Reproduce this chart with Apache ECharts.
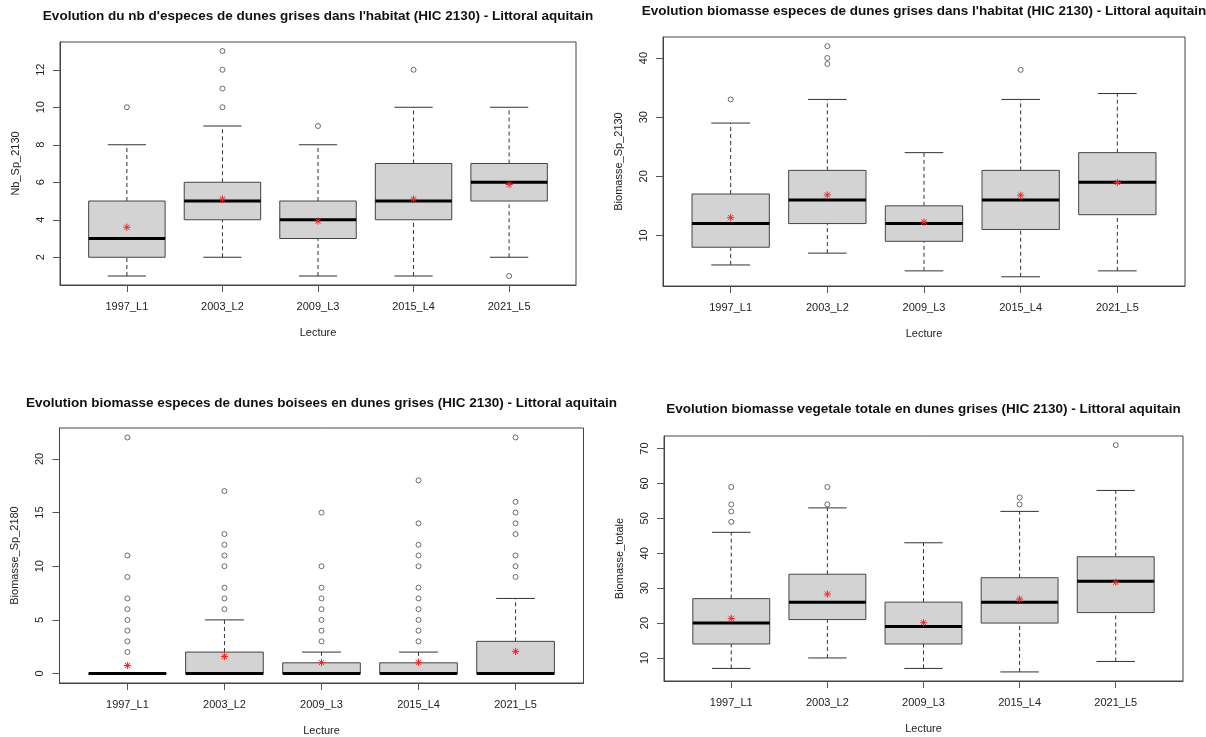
<!DOCTYPE html>
<html>
<head>
<meta charset="utf-8">
<script src="https://cdn.jsdelivr.net/npm/echarts@6/dist/echarts.min.js"></script>
<style>
html,body{margin:0;padding:0;background:#fff;}
#chart{width:1206px;height:737px;}
</style>
</head>
<body>
<div id="chart"></div>
<script>
// ---------- DATA ----------
const categories = ['1997_L1', '2003_L2', '2009_L3', '2015_L4', '2021_L5'];

// Panel 1 : Nb_Sp_2130  [lower whisker, Q1, median, Q3, upper whisker]
const nbSpBoxes = [[1, 2, 3, 5, 8], [2, 4, 5, 6, 9], [1, 3, 4, 5, 8], [1, 4, 5, 7, 10], [2, 5, 6, 7, 10]];
const nbSpOutliers = [[10], [10, 11, 12, 13], [9], [12], [1]];
const nbSpMeans = [3.6, 5.1, 3.93, 5.1, 5.88];
const nbSpTicks = [2, 4, 6, 8, 10, 12];

// Panel 2 : Biomasse_Sp_2130
const bio2130Boxes = [[5, 8, 12, 17, 29], [7, 12, 16, 21, 33], [4, 9, 12, 15, 24], [3, 11, 16, 21, 33], [4, 13.5, 19, 24, 34]];
const bio2130Outliers = [[33], [39, 40, 42], [], [38], []];
const bio2130Means = [13.0, 16.85, 12.26, 16.8, 18.95];
const bio2130Ticks = [10, 20, 30, 40];

// Panel 3 : Biomasse_Sp_2180
const bio2180Boxes = [[0, 0, 0, 0, 0], [0, 0, 0, 2, 5], [0, 0, 0, 1, 2], [0, 0, 0, 1, 2], [0, 0, 0, 3, 7]];
const bio2180Outliers = [
  [2, 3, 4, 5, 6, 7, 9, 11, 22],
  [6, 7, 8, 10, 11, 12, 13, 17],
  [3, 4, 5, 6, 7, 8, 10, 15],
  [3, 4, 5, 6, 7, 8, 10, 11, 12, 14, 18],
  [9, 10, 11, 13, 14, 15, 16, 22]
];
const bio2180Means = [0.75, 1.59, 1.03, 1.05, 2.06];
const bio2180Ticks = [0, 5, 10, 15, 20];

// Panel 4 : Biomasse_totale
const bioTotBoxes = [[7, 14, 20, 27, 46], [10, 21, 26, 34, 53], [7, 14, 19, 26, 43], [6, 20, 26, 33, 52], [9, 23, 32, 39, 58]];
const bioTotOutliers = [[49, 52, 54, 59], [54, 59], [], [54, 56], [71]];
const bioTotMeans = [21.33, 28.3, 20.1, 26.86, 31.7];
const bioTotTicks = [10, 20, 30, 40, 50, 60, 70];

const titles = [
  "Evolution du nb d'especes de dunes grises dans l'habitat (HIC 2130) - Littoral aquitain",
  "Evolution biomasse especes de dunes grises dans l'habitat (HIC 2130) - Littoral aquitain",
  "Evolution biomasse especes de dunes boisees en dunes grises (HIC 2130) - Littoral aquitain",
  "Evolution biomasse vegetale totale en dunes grises (HIC 2130) - Littoral aquitain"
];
const yNames = ['Nb_Sp_2130', 'Biomasse_Sp_2130', 'Biomasse_Sp_2180', 'Biomasse_totale'];
const xName = 'Lecture';

// ---------- LAYOUT ----------
const FONT = "'Liberation Sans', Arial, sans-serif";
const panels = [
  { grid: { left: 60, top: 42, width: 516, height: 243 }, titleTop: 9, yMin: 0.52, yMax: 13.48,
    boxes: nbSpBoxes, outliers: nbSpOutliers, means: nbSpMeans, ticks: nbSpTicks },
  { grid: { left: 663, top: 37, width: 522, height: 249 }, titleTop: 4, yMin: 1.44, yMax: 43.56,
    boxes: bio2130Boxes, outliers: bio2130Outliers, means: bio2130Means, ticks: bio2130Ticks },
  { grid: { left: 59.5, top: 428, width: 524, height: 255 }, titleTop: 396, yMin: -0.88, yMax: 22.88,
    boxes: bio2180Boxes, outliers: bio2180Outliers, means: bio2180Means, ticks: bio2180Ticks },
  { grid: { left: 664, top: 436, width: 519, height: 245 }, titleTop: 402, yMin: 3.4, yMax: 73.6,
    boxes: bioTotBoxes, outliers: bioTotOutliers, means: bioTotMeans, ticks: bioTotTicks }
];

const BOX_W = 0.8, STAPLE_W = 0.4;
const FRAME = '#444', TXT = '#222';

function renderBox(params, api) {
  const x = api.value(0);
  const lo = api.value(1), q1 = api.value(2), med = api.value(3), q3 = api.value(4), hi = api.value(5);
  const c = (v) => api.coord([x, v]);
  const half = api.size([BOX_W, 0])[0] / 2;
  const sHalf = api.size([STAPLE_W, 0])[0] / 2;
  const pLo = c(lo), pQ1 = c(q1), pMed = c(med), pQ3 = c(q3), pHi = c(hi);
  const cx = pMed[0];
  const dash = { stroke: '#333', lineWidth: 1, lineDash: [4, 3] };
  const solid = { stroke: '#333', lineWidth: 1 };
  return {
    type: 'group',
    children: [
      { type: 'line', shape: { x1: cx, y1: pQ3[1], x2: cx, y2: pHi[1] }, style: dash },
      { type: 'line', shape: { x1: cx, y1: pLo[1], x2: cx, y2: pQ1[1] }, style: dash },
      { type: 'line', shape: { x1: cx - sHalf, y1: pHi[1], x2: cx + sHalf, y2: pHi[1] }, style: solid },
      { type: 'line', shape: { x1: cx - sHalf, y1: pLo[1], x2: cx + sHalf, y2: pLo[1] }, style: solid },
      { type: 'rect', shape: { x: cx - half, y: pQ3[1], width: 2 * half, height: pQ1[1] - pQ3[1] },
        style: { fill: '#d3d3d3', stroke: FRAME, lineWidth: 1 } },
      { type: 'line', shape: { x1: cx - half, y1: pMed[1], x2: cx + half, y2: pMed[1] },
        style: { stroke: '#000', lineWidth: 3 } }
    ]
  };
}

function renderMean(params, api) {
  const p = api.coord([api.value(0), api.value(1)]);
  const r = 3.6, d = r * 0.72;
  const st = { stroke: '#f22', lineWidth: 1 };
  return {
    type: 'group',
    children: [
      { type: 'line', shape: { x1: p[0] - r, y1: p[1], x2: p[0] + r, y2: p[1] }, style: st },
      { type: 'line', shape: { x1: p[0], y1: p[1] - r, x2: p[0], y2: p[1] + r }, style: st },
      { type: 'line', shape: { x1: p[0] - d, y1: p[1] - d, x2: p[0] + d, y2: p[1] + d }, style: st },
      { type: 'line', shape: { x1: p[0] - d, y1: p[1] + d, x2: p[0] + d, y2: p[1] - d }, style: st }
    ]
  };
}

const option = { animation: false, backgroundColor: '#fff', title: [], grid: [], xAxis: [], yAxis: [], series: [] };
const catIdx = categories.map((_, i) => i + 1);

panels.forEach((p, k) => {
  option.title.push({
    text: titles[k], left: p.grid.left + p.grid.width / 2, top: p.titleTop, textAlign: 'center', padding: 0,
    textStyle: { fontFamily: FONT, fontSize: 13.5, fontWeight: 'bold', color: '#111' }
  });
  option.grid.push(Object.assign({ show: true, borderColor: FRAME, borderWidth: 1, backgroundColor: 'transparent' }, p.grid));
  option.xAxis.push({
    type: 'value', gridIndex: k, min: 0.3, max: 5.7,
    name: xName, nameLocation: 'middle', nameGap: 42,
    nameTextStyle: { fontFamily: FONT, fontSize: 11, color: TXT },
    axisLine: { show: true, onZero: false, lineStyle: { color: FRAME } },
    axisTick: { show: true, length: 7, inside: false, customValues: catIdx, lineStyle: { color: '#555' } },
    axisLabel: { show: true, customValues: catIdx, margin: 16, fontFamily: FONT, fontSize: 11, color: TXT,
      formatter: (v) => categories[Math.round(v) - 1] || '' },
    splitLine: { show: false }
  });
  option.yAxis.push({
    type: 'value', gridIndex: k, min: p.yMin, max: p.yMax,
    name: yNames[k], nameLocation: 'middle', nameGap: 39, nameRotate: 90,
    nameTextStyle: { fontFamily: FONT, fontSize: 11, color: TXT },
    axisLine: { show: true, onZero: false, lineStyle: { color: FRAME } },
    axisTick: { show: true, length: 7, inside: false, customValues: p.ticks, lineStyle: { color: '#555' } },
    axisLabel: { show: true, customValues: p.ticks, rotate: 90, margin: 14, fontFamily: FONT, fontSize: 11, color: TXT },
    splitLine: { show: false }
  });
  option.series.push({
    type: 'custom', xAxisIndex: k, yAxisIndex: k, renderItem: renderBox, clip: false,
    encode: { x: 0, y: [1, 2, 3, 4, 5] },
    data: p.boxes.map((b, i) => [i + 1].concat(b)), z: 2
  });
  option.series.push({
    type: 'scatter', xAxisIndex: k, yAxisIndex: k, symbol: 'circle', symbolSize: 5,
    itemStyle: { color: 'transparent', borderColor: '#333', borderWidth: 0.9 },
    data: p.outliers.flatMap((arr, i) => arr.map((v) => [i + 1, v])), z: 3
  });
  option.series.push({
    type: 'custom', xAxisIndex: k, yAxisIndex: k, renderItem: renderMean, clip: false,
    encode: { x: 0, y: 1 },
    data: p.means.map((m, i) => [i + 1, m]), z: 4
  });
});

const chart = echarts.init(document.getElementById('chart'), null, { renderer: 'canvas' });
chart.setOption(option);
</script>
</body>
</html>
